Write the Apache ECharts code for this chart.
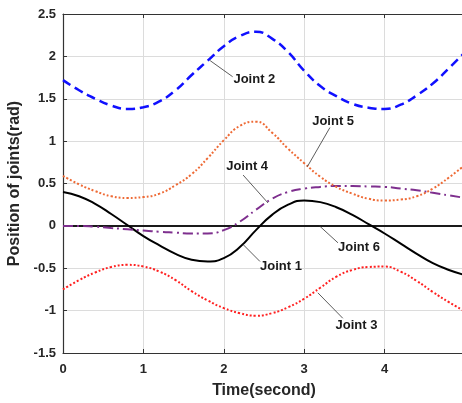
<!DOCTYPE html>
<html>
<head>
<meta charset="utf-8">
<script src="https://cdn.jsdelivr.net/npm/echarts@6/dist/echarts.min.js"></script>
<style>
html,body{margin:0;padding:0;background:#fff;}
#c{width:462px;height:403px;}
</style>
</head>
<body>
<div id="c"></div>
<script>
var times = [0,0.2,0.4,0.6,0.8,1.0,1.2,1.4,1.6,1.8,2.0,2.2,2.4,2.6,2.8,3.0,3.2,3.4,3.6,3.8,4.0,4.2,4.4,4.6,4.8,5.0];
var joint1 = [0.40,0.35,0.26,0.14,0.01,-0.12,-0.23,-0.33,-0.40,-0.42,-0.38,-0.25,-0.05,0.13,0.25,0.30,0.28,0.22,0.13,0.02,-0.09,-0.21,-0.33,-0.44,-0.52,-0.58];
var joint2 = [1.72,1.60,1.50,1.42,1.38,1.40,1.47,1.60,1.78,1.95,2.12,2.24,2.29,2.21,2.05,1.83,1.65,1.53,1.44,1.395,1.38,1.43,1.54,1.68,1.86,2.05];
var joint3 = [-0.75,-0.64,-0.55,-0.485,-0.46,-0.48,-0.54,-0.64,-0.77,-0.88,-0.97,-1.03,-1.06,-1.03,-0.96,-0.86,-0.73,-0.60,-0.52,-0.485,-0.48,-0.54,-0.65,-0.78,-0.90,-1.01];
var joint4 = [0.00,0.00,-0.01,-0.025,-0.04,-0.055,-0.07,-0.08,-0.09,-0.09,-0.05,0.05,0.19,0.32,0.40,0.44,0.46,0.47,0.47,0.465,0.46,0.44,0.42,0.39,0.36,0.33];
var joint5 = [0.59,0.49,0.41,0.35,0.33,0.34,0.38,0.48,0.61,0.80,1.01,1.18,1.23,1.10,0.91,0.74,0.58,0.46,0.38,0.32,0.30,0.31,0.35,0.44,0.57,0.72];
var joint6 = [0,0,0,0,0,0,0,0,0,0,0,0,0,0,0,0,0,0,0,0,0,0,0,0,0,0];
var xTicks = [0,1,2,3,4,5];
var yTicks = [-1.5,-1,-0.5,0,0.5,1,1.5,2,2.5];
var seriesNames = ['Joint 1','Joint 2','Joint 3','Joint 4','Joint 5','Joint 6'];

// annotation layout (data coordinates): anchor on curve, leader end, text position
var annotations = [
  {name:'Joint 2', anchor:[1.83,1.95], end:[2.11,1.76], text:[2.12,1.73], align:'left'},
  {name:'Joint 5', anchor:[3.04,0.70], end:[3.32,1.16], text:[3.36,1.23], align:'center'},
  {name:'Joint 4', anchor:[2.55,0.27], end:[2.24,0.60], text:[2.29,0.70], align:'center'},
  {name:'Joint 1', anchor:[2.24,-0.22], end:[2.45,-0.42], text:[2.45,-0.48], align:'left'},
  {name:'Joint 6', anchor:[3.19,0.00], end:[3.42,-0.20], text:[3.42,-0.26], align:'left'},
  {name:'Joint 3', anchor:[3.17,-0.79], end:[3.48,-1.09], text:[3.65,-1.17], align:'center'}
];

function pairs(ys){ return times.map(function(t,i){ return [t, ys[i]]; }); }

var FONT = '"Liberation Sans", Arial, sans-serif';
var chart = echarts.init(document.getElementById('c'), null, {renderer:'canvas'});

var axisLabelStyle = {fontFamily:FONT, fontWeight:'bold', fontSize:13, color:'#262626'};
function lineSeries(name, ys, color, width, type, z){
  return {name:name, type:'line', data:pairs(ys), showSymbol:false, smooth:true, z:z,
    lineStyle:{color:color, width:width, type:type}};
}

var option = {
  animation:false,
  backgroundColor:'#fff',
  grid:{left:63, top:14, width:402, height:339, containLabel:false, outerBoundsMode:'none'},
  xAxis:[{
    type:'value', min:xTicks[0], max:xTicks[xTicks.length-1], interval:1, position:'bottom',
    name:'Time(second)', nameLocation:'middle', nameGap:30,
    nameTextStyle:{fontFamily:FONT, fontWeight:'bold', fontSize:16, color:'#262626'},
    axisLine:{show:true, onZero:false, lineStyle:{color:'#333', width:1.2}},
    axisTick:{show:true, inside:true, length:4, lineStyle:{color:'#333'}},
    axisLabel:Object.assign({margin:10}, axisLabelStyle),
    splitLine:{show:true, lineStyle:{color:'#dcdcdc', width:1}}
  },{
    type:'value', min:xTicks[0], max:xTicks[xTicks.length-1], interval:1, position:'top',
    axisLine:{show:true, onZero:false, lineStyle:{color:'#333', width:1.2}},
    axisTick:{show:true, inside:true, length:4, lineStyle:{color:'#333'}},
    axisLabel:{show:false}, splitLine:{show:false}
  }],
  yAxis:[{
    type:'value', min:yTicks[0], max:yTicks[yTicks.length-1], interval:0.5,
    name:'Position of joints(rad)', nameLocation:'middle', nameGap:31, nameRotate:90,
    nameTextStyle:{fontFamily:FONT, fontWeight:'bold', fontSize:16, color:'#262626'},
    axisLine:{show:true, onZero:false, lineStyle:{color:'#333', width:1.2}},
    axisTick:{show:true, inside:true, length:4, lineStyle:{color:'#333'}},
    axisLabel:Object.assign({margin:7}, axisLabelStyle),
    splitLine:{show:true, lineStyle:{color:'#dcdcdc', width:1}}
  }],
  series:[
    lineSeries(seriesNames[5], joint6, '#1a1a1a', 2, 'solid', 3),
    lineSeries(seriesNames[0], joint1, '#000', 2, 'solid', 4),
    lineSeries(seriesNames[1], joint2, '#1010ff', 2.5, [9,5], 4),
    lineSeries(seriesNames[2], joint3, '#ff2020', 2, [2,2], 4),
    lineSeries(seriesNames[3], joint4, '#7e2f8e', 2, [10,4,2,4], 4),
    lineSeries(seriesNames[4], joint5, '#ee6a35', 2, [2,2], 4)
  ]
};
chart.setOption(option);

function px(p){ return chart.convertToPixel({xAxisIndex:0, yAxisIndex:0}, p); }
var graphics = [];
annotations.forEach(function(a){
  var p0 = px(a.anchor), p1 = px(a.end), pt = px(a.text);
  graphics.push({type:'line', z:10, shape:{x1:p0[0], y1:p0[1], x2:p1[0], y2:p1[1]},
    style:{stroke:'#333', lineWidth:0.8}});
  graphics.push({type:'text', z:10, x:pt[0], y:pt[1],
    style:{text:a.name, fill:'#1a1a1a', font:'bold 13px ' + FONT, textAlign:a.align, textVerticalAlign:'middle'}});
});
chart.setOption({graphic:graphics});
</script>
</body>
</html>
